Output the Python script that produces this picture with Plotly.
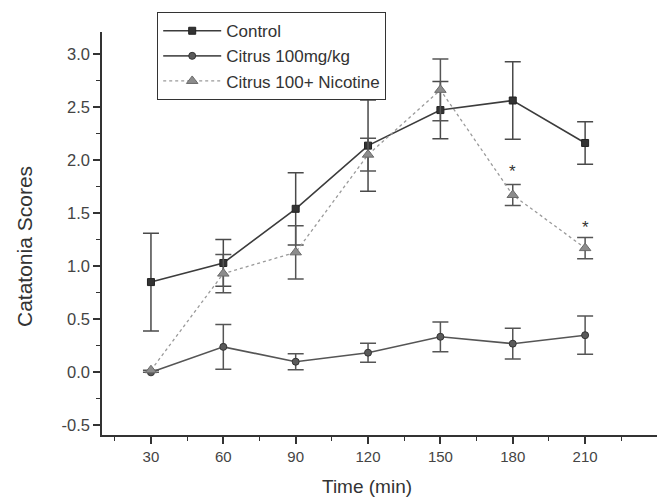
import plotly.graph_objects as go

time_min = [30, 60, 90, 120, 150, 180, 210]

control = [0.85, 1.03, 1.54, 2.135, 2.47, 2.56, 2.16]
control_err = [0.46, 0.22, 0.34, 0.43, 0.27, 0.365, 0.20]

citrus = [0.0, 0.24, 0.10, 0.185, 0.335, 0.27, 0.35]
citrus_err = [0.0, 0.21, 0.075, 0.09, 0.14, 0.145, 0.18]

nicotine = [0.02, 0.93, 1.13, 2.05, 2.66, 1.67, 1.17]
nicotine_err = [0.0, 0.18, 0.25, 0.155, 0.29, 0.10, 0.10]

y_tick_vals = [-0.5, 0.0, 0.5, 1.0, 1.5, 2.0, 2.5, 3.0]
y_tick_text = ["-0.5", "0.0", "0.5", "1.0", "1.5", "2.0", "2.5", "3.0"]

star_times = [180, 210]
star_values = [1.93, 1.405]

font_family = "Liberation Sans, Arial, sans-serif"

L, R, T, B = 102, 4, 32, 63
W, H = 661, 498
pw, ph = W - L - R, H - T - B

fig = go.Figure()

fig.add_trace(go.Scatter(
    x=time_min, y=control, name="Control", mode="lines+markers",
    line=dict(color="#3c3c3c", width=1.6),
    marker=dict(symbol="square", size=7, color="#333333",
                line=dict(color="#222222", width=1)),
    error_y=dict(type="data", array=control_err, visible=True,
                 color="#4a4a4a", thickness=1.5, width=8),
))
fig.add_trace(go.Scatter(
    x=time_min, y=citrus, name="Citrus 100mg/kg", mode="lines+markers",
    line=dict(color="#555555", width=1.6),
    marker=dict(symbol="circle", size=7, color="#5a5a5a",
                line=dict(color="#333333", width=1)),
    error_y=dict(type="data", array=citrus_err, visible=True,
                 color="#555555", thickness=1.5, width=8),
))
fig.add_trace(go.Scatter(
    x=time_min, y=nicotine, name="Citrus 100+ Nicotine", mode="lines+markers",
    line=dict(color="#9a9a9a", width=1.3, dash="dot"),
    marker=dict(symbol="triangle-up", size=10, color="#8c8c8c",
                line=dict(color="#6a6a6a", width=1)),
    error_y=dict(type="data", array=nicotine_err, visible=True,
                 color="#555555", thickness=1.5, width=8),
))

for t, v in zip(star_times, star_values):
    fig.add_annotation(x=t, y=v, text="*", showarrow=False, yshift=-4,
                       font=dict(size=17, color="#333333", family=font_family))

# axis titles placed as annotations (pixel positions converted to paper coords)
fig.add_annotation(x=(367 - L) / pw, y=(H - B - 486) / ph,
                   xref="paper", yref="paper", text="Time (min)",
                   showarrow=False, xanchor="center", yanchor="middle",
                   font=dict(size=19, color="#333333", family=font_family))
fig.add_annotation(x=(24 - L) / pw, y=(H - B - 247) / ph,
                   xref="paper", yref="paper", text="Catatonia Scores",
                   textangle=-90, showarrow=False,
                   xanchor="center", yanchor="middle",
                   font=dict(size=21, color="#333333", family=font_family))

fig.update_layout(
    width=W, height=H,
    margin=dict(l=L, r=R, t=T, b=B, autoexpand=False),
    paper_bgcolor="white", plot_bgcolor="white",
    font=dict(family=font_family, color="#444444"),
    showlegend=True,
    legend=dict(
        x=(157 - L) / pw, y=(H - B - 12) / ph, xanchor="left", yanchor="top",
        bordercolor="#333333", borderwidth=1.2, bgcolor="white",
        font=dict(size=17, color="#333333", family=font_family),
        tracegroupgap=0, itemwidth=58,
    ),
    xaxis=dict(
        range=[9.7, 239.8], tick0=30, dtick=30, showgrid=False, zeroline=False,
        automargin=False,
        showline=True, linecolor="#333333", linewidth=1.5,
        ticks="outside", ticklen=7, tickwidth=1.5, tickcolor="#333333",
        tickfont=dict(size=15, color="#444444"),
        minor=dict(tick0=15, dtick=15, ticks="outside", ticklen=4,
                   tickwidth=1.3, tickcolor="#333333", showgrid=False),
    ),
    yaxis=dict(
        range=[-0.59, 3.205], tickmode="array",
        tickvals=y_tick_vals, ticktext=y_tick_text,
        showgrid=False, zeroline=False, automargin=False,
        showline=True, linecolor="#333333", linewidth=1.5,
        ticks="outside", ticklen=7, tickwidth=1.5, tickcolor="#333333",
        tickfont=dict(size=16.5, color="#444444"),
        minor=dict(tick0=0, dtick=0.25, ticks="outside", ticklen=4,
                   tickwidth=1.3, tickcolor="#333333", showgrid=False),
    ),
)

fig.write_html("out.html",
               config={"displayModeBar": False},
               post_script="document.body.style.margin='0';"
                           "document.body.style.padding='0';")
